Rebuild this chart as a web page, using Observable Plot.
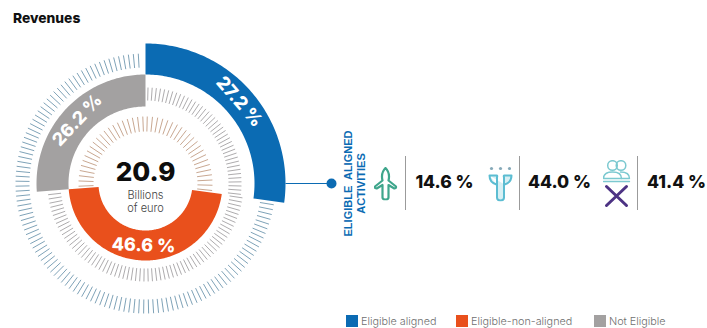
<!DOCTYPE html>
<html>
<head>
<meta charset="utf-8">
<script src="https://cdn.jsdelivr.net/npm/d3@7"></script>
<script src="https://cdn.jsdelivr.net/npm/@observablehq/plot@0.6"></script>
<style>
  html, body { margin: 0; padding: 0; background: #fff; }
  body { width: 707px; height: 328px; overflow: hidden; font-family: Inter, "Liberation Sans", sans-serif; }
  h1 { margin: 0; height: 30px; box-sizing: border-box; padding: 10px 0 0 13px; font-size: 13.8px; line-height: 16px; font-weight: 800; color: #111; }
  #chart svg { display: block; }
  #legend { position: relative; height: 13px; font-size: 10.8px; line-height: 13px; color: #6f6f6f; font-weight: 300; }
  #legend span { position: absolute; top: 0; white-space: nowrap; }
  #legend i { position: absolute; top: 0; width: 12px; height: 12px; }
</style>
</head>
<body>
<h1>Revenues</h1>
<div id="chart"></div>
<div id="legend"></div>
<script>
// Revenue split by taxonomy eligibility
const categories = ["Eligible aligned", "Eligible-non-aligned", "Not Eligible"];
const shares = [27.2, 46.6, 26.2];
const colors = ["#0b6bb3", "#e9501c", "#a3a1a1"];
const totalRevenue = "20.9";
const totalUnit = ["Billions", "of euro"];

// Breakdown of the aligned activities
const activityShares = [14.6, 44.0, 41.4];
const calloutTitle = ["ELIGIBLE  ALIGNED", "ACTIVITIES"];

// Ring radii per category, in chart units
const ringInner = [109, 47, 77];
const ringOuter = [140, 77, 109];

const toXY = (deg, r) => {
  const a = deg * Math.PI / 180;
  return [r * Math.sin(a), r * Math.cos(a)];
};

// Start and end angle of each slice, clockwise from twelve o'clock
let running = 0;
const slices = categories.map((name, i) => {
  const start = running * 3.6;
  running += shares[i];
  return {name, share: shares[i], start, end: running * 3.6, inner: ringInner[i], outer: ringOuter[i]};
});

// Each slice becomes a closed polygon following its two arcs
const arcPoints = slices.flatMap((s) => {
  const steps = d3.range(s.start, s.end, 1).concat(s.end);
  const outer = steps.map((d) => toXY(d, s.outer));
  const inner = steps.slice().reverse().map((d) => toXY(d, s.inner));
  return outer.concat(inner).map(([x, y]) => ({x, y, name: s.name}));
});

const sliceLabels = slices.map((s) => {
  const mid = (s.start + s.end) / 2;
  const [x, y] = toXY(mid, (s.inner + s.outer) / 2);
  const flipped = mid > 90 && mid < 270;
  return {x, y, text: `${s.share.toFixed(1)} %`, rotate: flipped ? mid - 180 : (mid > 180 ? mid - 360 : mid)};
});

// Decorative tick rings filling the empty part of each ring
const tickRings = [
  {from: slices[0].end + 1.5, to: 358.5, step: 2.2, r1: 116, r2: 130, stroke: "#7fa3b8"},
  {from: 1.5, to: slices[0].end - 1, step: 2.5, r1: 83, r2: 96, stroke: "#aeacae"},
  {from: slices[1].start + 0.5, to: slices[1].end, step: 2.5, r1: 85, r2: 98, stroke: "#aeacae"},
  {from: 1.5, to: slices[1].start, step: 4.5, r1: 52, r2: 67, stroke: "#c9a892"},
  {from: slices[1].end + 2, to: 358.5, step: 4.5, r1: 52, r2: 67, stroke: "#c9a892"}
];
const ticks = tickRings.flatMap((ring) =>
  d3.range(ring.from, ring.to, ring.step).map((deg) => {
    const [x1, y1] = toXY(deg, ring.r1);
    const [x2, y2] = toXY(deg, ring.r2);
    return {x1, y1, x2, y2, stroke: ring.stroke};
  })
);

// Activity pictograms
const svgUri = (w, h, body) =>
  "data:image/svg+xml," + encodeURIComponent(`<svg xmlns="http://www.w3.org/2000/svg" viewBox="0 0 ${w} ${h}" width="${w}" height="${h}" fill="none" stroke-linecap="round" stroke-linejoin="round">${body}</svg>`);
const turbine = svgUri(24, 34, `<path d="M12 1.500 C8.500 5 8 10 9 14 L1.500 20 C1 21.500 2.500 22.500 4 21.500 L9 18.500 L9 31 Q9 33 12 33 Q15 33 15 31 L15 18.500 L20 21.500 C21.500 22.500 23 21.500 22.500 20 L15 14 C16 10 15.500 5 12 1.500 Z" stroke="#3fa68c" stroke-width="2.200"/>`);
const fountain = svgUri(26, 36, `<path d="M2 10 H9.500 Q10 10 9.500 12 V32 Q9.500 35 13 35 Q16.500 35 16.500 32 V12 Q16 10 16.500 10 H24 Q24 17 17 19 M2 10 Q2 17 9 19" fill="#d8f0f4" stroke="#5cbdd2" stroke-width="2"/><g fill="#86a9b8"><circle cx="4" cy="3" r="1.600"/><circle cx="13" cy="3" r="1.600"/><circle cx="22" cy="3" r="1.600"/></g>`);
const people = svgUri(28, 48, `<g stroke="#7cc9d0" stroke-width="1.500"><circle cx="10" cy="6" r="4.800"/><circle cx="18.500" cy="6" r="4.800"/><path d="M1 19 C1 14 5 12.500 10 12.500 C15 12.500 19 14 19 19 Z"/><path d="M18 12.500 C23 12.500 27 14.500 27 19 H19"/><path d="M1 22 H27"/></g><path d="M4 27 L24 46 M24 27 L4 46" stroke="#4d3384" stroke-width="3"/>`);

const icons = [
  {x: 240, y: 0, src: turbine},
  {x: 355, y: 0, src: fountain},
  {x: 471, y: 0, src: people}
];

const dividers = [260, 374, 492];
const valueX = [299, 414, 531];

const chart = Plot.plot({
  width: 707,
  height: 285,
  margin: 0,
  x: {domain: [-145, 562], axis: null},
  y: {domain: [-132, 153], axis: null},
  marks: [
    Plot.link(ticks, {x1: "x1", y1: "y1", x2: "x2", y2: "y2", stroke: "stroke", strokeWidth: 1}),
    Plot.line(arcPoints, {x: "x", y: "y", z: "name", fill: (d) => colors[categories.indexOf(d.name)], stroke: null}),
    Plot.text(sliceLabels, {x: "x", y: "y", text: "text", rotate: "rotate", fill: "white", fontSize: 18, fontWeight: 800, fontFamily: "Inter"}),

    Plot.text([totalRevenue], {x: 0, y: 11, text: (d) => d, fontSize: 26, fontWeight: 800, fontFamily: "Inter", fill: "#0d0d0d"}),
    Plot.text(totalUnit, {x: 0, y: (d, i) => -12 - 13 * i, text: (d) => d, fontSize: 11, fontWeight: 300, fontFamily: "Inter", fill: "#444"}),

    // Callout from the aligned slice
    Plot.link([0], {x1: 140, x2: 186, y1: 0, y2: 0, stroke: colors[0], strokeWidth: 1.2}),
    Plot.dot([0], {x: 186, y: 0, r: 5, fill: colors[0]}),
    Plot.text(calloutTitle, {x: (d, i) => 203 + 13 * i, y: 0, text: (d) => d, rotate: -90, fontSize: 11, fontWeight: 600, fontFamily: "Liberation Sans", fill: colors[0], style: {whiteSpace: "pre"}}),

    Plot.image(icons.slice(0, 1), {x: "x", y: "y", src: "src", width: 24, height: 34}),
    Plot.image(icons.slice(1, 2), {x: "x", y: "y", src: "src", width: 26, height: 36}),
    Plot.image(icons.slice(2), {x: "x", y: "y", src: "src", width: 28, height: 48}),

    Plot.ruleX(dividers, {y1: -27, y2: 27, stroke: "#9b9b9b", strokeWidth: 1}),
    Plot.text(activityShares, {x: (d, i) => valueX[i], y: 1, text: (d) => `${d.toFixed(1)} %`, fontSize: 17.5, fontWeight: 800, fontFamily: "Inter", fill: "#111"})
  ]
});
document.getElementById("chart").append(chart);

// Legend row under the chart
const swatchX = [346, 456, 594];
const legend = d3.select("#legend");
categories.forEach((name, i) => {
  legend.append("i").style("left", `${swatchX[i]}px`).style("background", colors[i]);
  legend.append("span").style("left", `${swatchX[i] + 15}px`).text(name);
});
</script>
</body>
</html>
